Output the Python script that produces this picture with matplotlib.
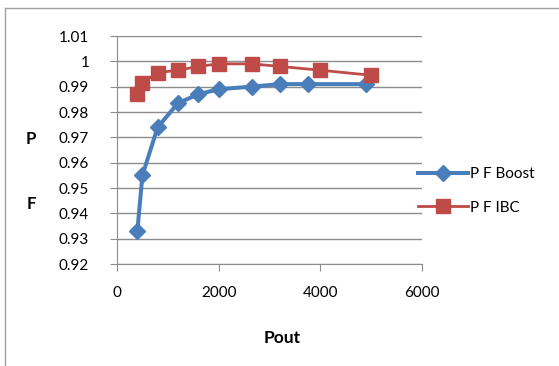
import matplotlib
matplotlib.use("Agg")
from matplotlib import pyplot as plt
from matplotlib.lines import Line2D

# power (W) and power factor
pout_boost = [400, 500, 800, 1200, 1600, 2000, 2650, 3200, 3750, 4900]
pf_boost = [0.933, 0.955, 0.974, 0.9835, 0.987, 0.989, 0.990, 0.991, 0.991, 0.991]
pout_ibc = [400, 500, 800, 1200, 1600, 2000, 2650, 3200, 4000, 5000]
pf_ibc = [0.987, 0.9915, 0.9955, 0.9965, 0.998, 0.999, 0.999, 0.998, 0.9965, 0.9945]

x_ticks = [0, 2000, 4000, 6000]
y_ticks = [0.92, 0.93, 0.94, 0.95, 0.96, 0.97, 0.98, 0.99, 1.0, 1.01]
y_labels = ['0.92', '0.93', '0.94', '0.95', '0.96', '0.97', '0.98', '0.99', '1', '1.01']

plt.rcParams['font.family'] = ['Lato', 'DejaVu Sans']

W, H = 559, 366
fig = plt.figure(figsize=(W / 100, H / 100), dpi=100)
ax = fig.add_axes([117 / W, 1 - 264 / H, (422 - 117) / W, (264 - 36) / H])

grey = '#8c8c8c'
blue = '#4a7ebb'
red = '#be4b48'

ax.plot(pout_boost, pf_boost, color=blue, lw=2.9, marker='D', ms=8.5,
        label='P F Boost', zorder=3)
ax.plot(pout_ibc, pf_ibc, color=red, lw=2.0, marker='s', ms=10,
        label='P F IBC', zorder=3)

ax.set_xlim(0, 6000)
ax.set_ylim(0.92, 1.01)
ax.set_xticks(x_ticks)
ax.set_yticks(y_ticks)
ax.set_yticklabels(y_labels)
ax.grid(axis='y', color=grey, lw=1)
ax.set_axisbelow(True)
for s in ['top', 'right']:
    ax.spines[s].set_visible(False)
for s in ['left', 'bottom']:
    ax.spines[s].set_color(grey)
ax.tick_params(axis='y', direction='out', length=5, color=grey, labelsize=11, pad=15)
ax.tick_params(axis='x', direction='out', length=5, color=grey, labelsize=11, pad=11)

fig.text(31 / W, 1 - 139 / H, 'P', fontsize=12, fontweight='bold', ha='center', va='center')
fig.text(31 / W, 1 - 204 / H, 'F', fontsize=12, fontweight='bold', ha='center', va='center')
fig.text(282 / W, 1 - 338 / H, 'Pout', fontsize=12.5, fontweight='bold', ha='center', va='center')

fig.legend(loc='center left', bbox_to_anchor=(410 / W, 1 - 191 / H), frameon=False,
           fontsize=11, handlelength=3.3, handletextpad=0.15, labelspacing=1.25,
           borderpad=0)

# chart frame (top and left edges visible)
fig.add_artist(Line2D([5 / W, 1], [1 - 8 / H, 1 - 8 / H], transform=fig.transFigure,
                      color='#a0a0a0', lw=1))
fig.add_artist(Line2D([5 / W, 5 / W], [0, 1 - 8 / H], transform=fig.transFigure,
                      color='#a0a0a0', lw=1))

fig.savefig('out.png', dpi=100)
